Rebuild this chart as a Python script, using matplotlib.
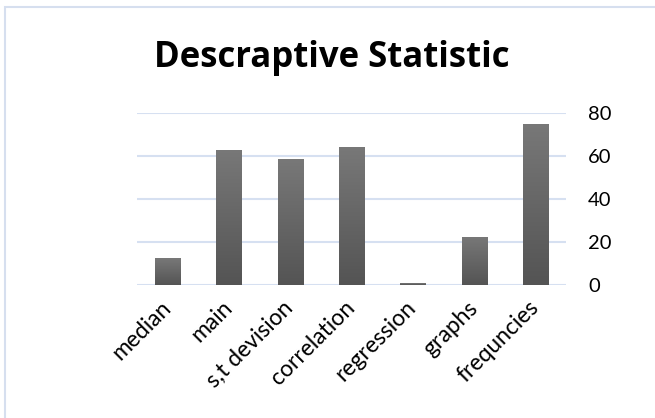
import numpy as np
import matplotlib
matplotlib.use("Agg")
import matplotlib.pyplot as plt
import matplotlib.patches as mpatches

# 数据
categories = ['median', 'main', 's,t devision', 'correlation', 'regression', 'graphs', 'frequncies']
values = [12.5, 63, 58.5, 64, 0.7, 22.5, 75]
y_ticks = [0, 20, 40, 60, 80]

plt.rcParams['font.family'] = ['Lato', 'DejaVu Sans']

fig = plt.figure(figsize=(6.55, 4.18), dpi=100)
fig.patch.set_facecolor('white')

# 外框（浅蓝色，右侧和下侧超出图片）
border = mpatches.Rectangle((5 / 655, -0.1), 1.1, 1 - 7 / 418 + 0.1,
                            transform=fig.transFigure, fill=False,
                            edgecolor='#D6DFEF', linewidth=1.5)
fig.patches.append(border)

ax = fig.add_axes([137 / 655, 1 - 285 / 418, (566 - 137) / 655, (285 - 113) / 418])

x = np.arange(len(categories))
bars = ax.bar(x, values, width=0.41, color='#666666', zorder=3)

# 渐变填充
grad = np.linspace(0, 1, 256).reshape(-1, 1)
cmap = matplotlib.colors.LinearSegmentedColormap.from_list('g', ['#545454', '#787878'])
for b in bars:
    x0, y0 = b.get_x(), b.get_y()
    w, h = b.get_width(), b.get_height()
    im = ax.imshow(grad, extent=(x0, x0 + w, y0, y0 + h), origin='lower',
                   aspect='auto', cmap=cmap, zorder=4)
    im.set_clip_path(b)

ax.set_xlim(-0.5, len(categories) - 0.5)
ax.set_ylim(0, 80)
ax.set_yticks(y_ticks)
ax.yaxis.tick_right()
ax.tick_params(axis='y', length=0, pad=16, labelsize=14.5)
ax.grid(axis='y', color='#D6E0F1', linewidth=1.5, zorder=0)

ax.set_xticks(x)
ax.set_xticklabels(categories, rotation=45, ha='right', va='center',
                   rotation_mode='anchor', fontsize=16.5)
ax.tick_params(axis='x', length=0, pad=14)

for s in ['left', 'right', 'top', 'bottom']:
    ax.spines[s].set_visible(False)

fig.text(332 / 655, 1 - 67 / 418, 'Descraptive Statistic', ha='center', va='baseline',
         fontsize=25, fontweight='bold', family='Open Sans')

fig.savefig('out.png', dpi=100)
